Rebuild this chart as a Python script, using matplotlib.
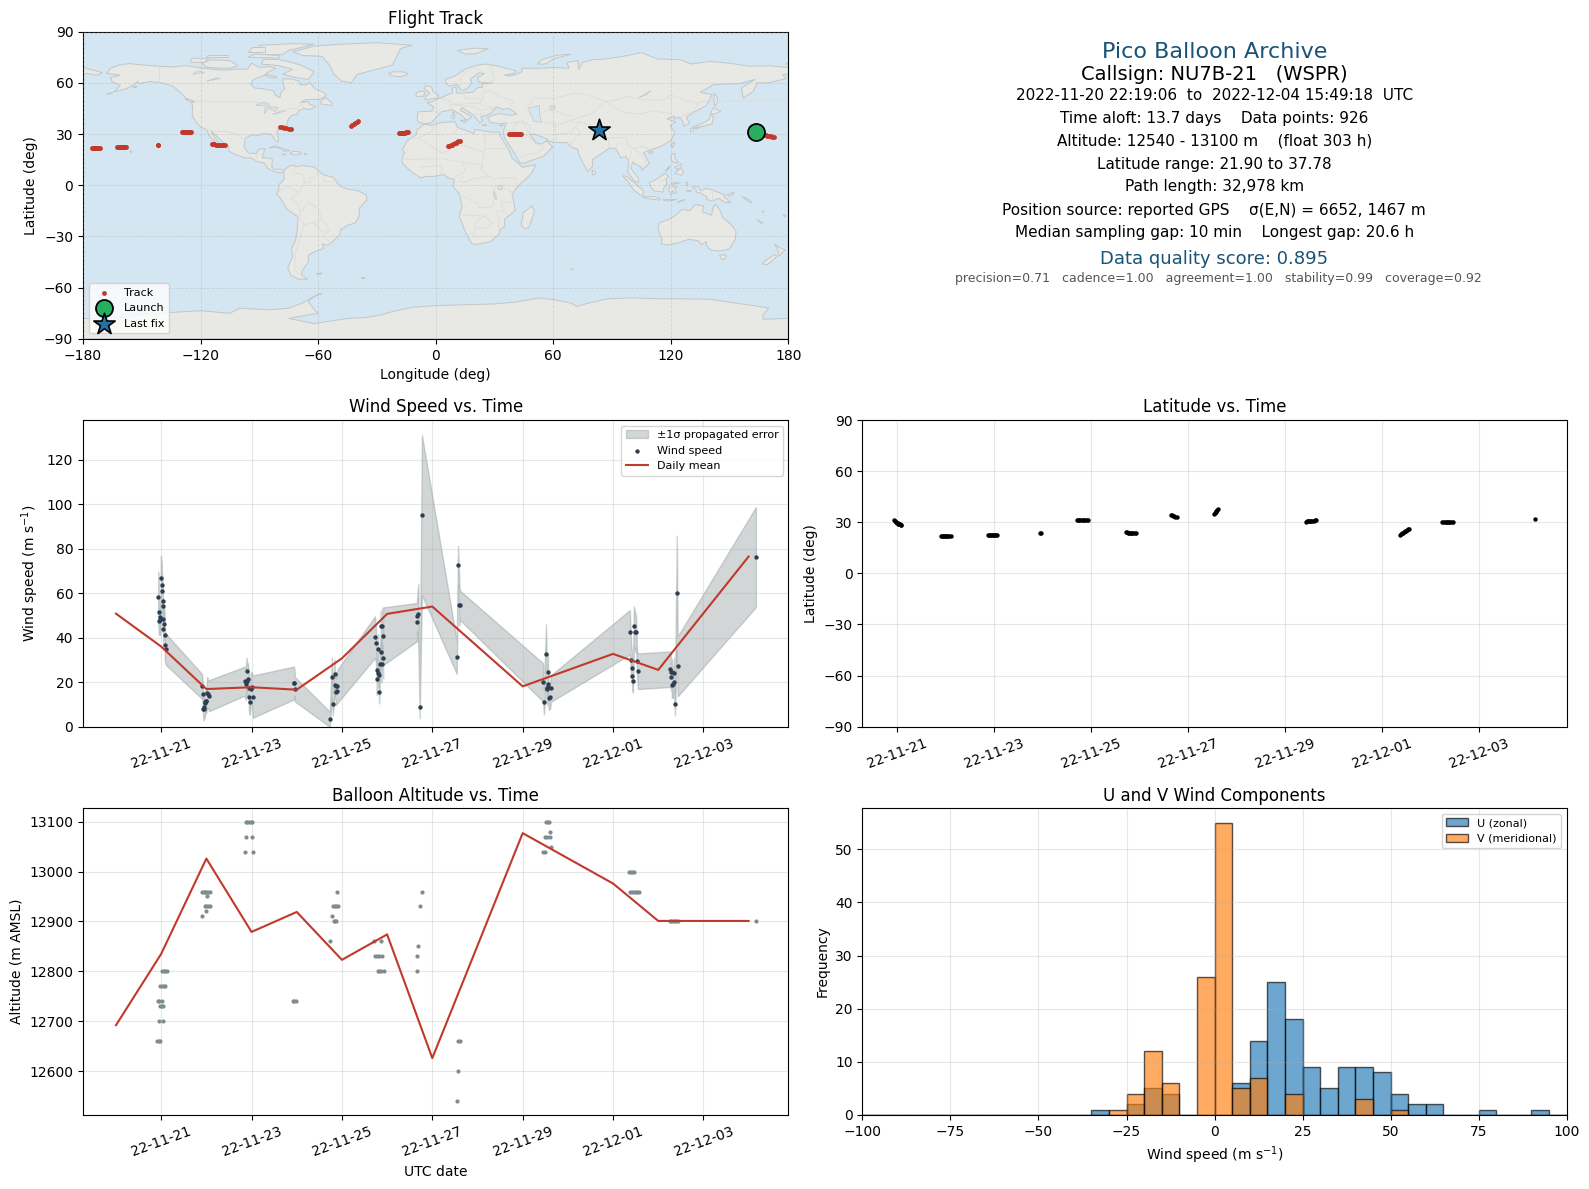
import numpy as np
import matplotlib
matplotlib.use("Agg")
import matplotlib.pyplot as plt
import matplotlib.dates as mdates
from datetime import datetime

# ---------- data ----------
BASE = "2022-11-21"
date_ticks = ["2022-11-21", "2022-11-23", "2022-11-25", "2022-11-27", "2022-11-29", "2022-12-01", "2022-12-03"]
mean_dates = ["2022-11-20", "2022-11-21", "2022-11-22", "2022-11-23", "2022-11-24", "2022-11-25",
              "2022-11-26", "2022-11-27", "2022-11-29", "2022-12-01", "2022-12-02", "2022-12-04"]
wind_mean = [50.8, 36.0, 16.9, 17.7, 16.6, 30.7, 50.7, 54.0, 18.1, 32.7, 25.5, 76.5]
alt_mean = [12692, 12835, 13026, 12879, 12919, 12823, 12874, 12626, 13077, 12976, 12901, 12901]

# days after BASE, wind speed, propagated sigma
wind_day = [-.067, -.052, -.052, -.03, -.015, -.008, .014, .014, .036, .036, .044, .05, .07, .08, .08, .10,
            .90, .92, .93, .94, .95, .97, .98, .995, 1.0, 1.017, 1.04, 1.06,
            1.844, 1.87, 1.895, 1.90, 1.92, 1.94, 1.94, 1.96, 1.98, 2.0, 2.03,
            2.936, 2.95, 2.96,
            3.73, 3.78, 3.80, 3.84, 3.84, 3.86, 3.86, 3.88, 3.90,
            4.73, 4.75, 4.77, 4.77, 4.80, 4.80, 4.82, 4.82, 4.84, 4.86, 4.86, 4.88, 4.89, 4.91, 4.91,
            5.66, 5.66, 5.69, 5.72, 5.77,
            6.54, 6.57, 6.60, 6.61,
            8.45, 8.47, 8.515, 8.54, 8.54, 8.56, 8.56, 8.56, 8.58, 8.60, 8.63,
            10.37, 10.40, 10.42, 10.42, 10.44, 10.46, 10.49, 10.51, 10.53, 10.55,
            11.26, 11.28, 11.28, 11.30, 11.30, 11.33, 11.35, 11.35, 11.37, 11.41, 11.43,
            13.16]
wind_val = [58.2, 51.4, 47.4, 48.0, 49.5, 66.8, 63.6, 60.9, 56.4, 54.1, 43.8, 48.2, 46.0, 41.1, 36.6, 34.8,
            18.2, 14.8, 7.8, 7.8, 9.0, 10.5, 11.0, 11.7, 11.3, 15.3, 14.5, 13.9,
            20.4, 19.0, 24.9, 20.7, 21.6, 17.2, 13.2, 10.9, 16.8, 17.7, 13.5,
            19.6, 19.8, 16.8,
            3.3, 22.2, 10.0, 23.5, 18.9, 18.4, 15.7, 16.0, 18.1,
            40.2, 37.5, 25.3, 21.3, 34.8, 24.0, 23.1, 15.4, 28.0, 33.4, 45.1, 28.0, 45.1, 30.7, 40.6,
            47.0, 49.9, 50.5, 8.7, 95.1,
            31.2, 72.6, 54.6, 54.6,
            19.9, 10.9, 32.5, 17.2, 16.8, 24.4, 19.2, 18.0, 12.7, 13.2, 17.2,
            42.4, 30.1, 26.2, 22.6, 20.4, 45.1, 42.4, 42.4, 29.4, 24.9,
            25.8, 24.4, 22.2, 24.4, 18.9, 19.0, 24.0, 19.9, 10.0, 60.0, 27.1,
            76.2]
wind_sig = [11.5, 9, 6, 7, 7, 10, 10, 9, 8, 8, 7, 7, 7, 7, 7, 7,
            5.6, 5, 4, 5, 5, 6, 5, 5, 5, 7, 6, 7,
            6.5, 7, 6, 7, 7, 7, 6, 5.7, 7, 7, 9.5,
            7.4, 6, 5.5,
            3.4, 9, 5, 6.5, 6, 6, 6, 6, 7.5,
            9.4, 8, 6, 7, 7, 6, 6, 5, 8, 9, 7, 8, 8, 9, 13,
            8.6, 7, 13.7, 5, 36,
            7.5, 8.7, 9, 6.6,
            8.6, 5.5, 13.5, 7, 7, 8, 7, 7, 5, 5.5, 6,
            10, 7, 7, 6, 5, 9, 9, 7, 5, 8,
            8, 7, 6, 6, 6, 6, 7, 6, 5, 25.8, 13.5,
            22.5]

# altitude samples: days after BASE, metres
alt_day = [-.09, -.05, -.02, -.05, .04, -.02, .015, .05, -.07, -.04, .02, -.02, .015, .06, .09, .02, .06, .09, .12,
           .90, .99, .96, .99, 1.03, 1.07, 1.01, .91, .94, .97, .99, 1.03, 1.07,
           1.85, 2.03, 1.87, 2.0, 1.87, 1.90, 1.94, 1.98, 2.0,
           2.92, 2.95, 2.98,
           3.73, 3.78, 3.82, 3.85, 3.87, 3.80, 3.84, 3.87, 3.91, 3.89,
           4.72, 4.86, 4.74, 4.78, 4.83, 4.89, 4.80, 4.83, 4.87, 4.92,
           5.66, 5.66, 5.68, 5.72, 5.77,
           6.57, 6.62, 6.57, 6.54,
           8.44, 8.49, 8.63, 8.50, 8.54, 8.60, 8.60, 8.52, 8.55, 8.58,
           10.35, 10.39, 10.43, 10.46, 10.37, 10.41, 10.46, 10.50, 10.54, 10.57,
           11.25, 11.29, 11.33, 11.36, 11.40, 11.44, 13.16]
alt_val = [12660, 12660, 12660, 12700, 12700, 12730, 12730, 12730, 12740, 12740, 12740, 12770, 12770, 12770, 12770,
           12800, 12800, 12800, 12800,
           12910, 12920, 12930, 12930, 12930, 12930, 12950, 12960, 12960, 12960, 12960, 12960, 12960,
           13040, 13040, 13070, 13070, 13100, 13100, 13100, 13100, 13100,
           12740, 12740, 12740,
           12860, 12910, 12900, 12900, 12900, 12930, 12930, 12930, 12930, 12960,
           12860, 12860, 12830, 12830, 12830, 12830, 12800, 12800, 12800, 12800,
           12800, 12830, 12850, 12930, 12960,
           12660, 12660, 12600, 12540,
           13040, 13040, 13050, 13070, 13070, 13070, 13080, 13100, 13100, 13100,
           13000, 13000, 13000, 13000, 12960, 12960, 12960, 12960, 12960, 12960,
           12900, 12900, 12900, 12900, 12900, 12900, 12900]

# track fixes: days after BASE, latitude, longitude
track_day = [-.065, -.05, -.035, -.02, -.005, .01, .025, .04, .055, .07, .083,
             .91, .93, .95, .97, .99, 1.01, 1.03, 1.05, 1.07, 1.10,
             1.87, 1.89, 1.91, 1.93, 1.95, 1.97, 1.99, 2.01, 2.04, 2.06,
             2.95, 2.97,
             3.72, 3.74, 3.76, 3.78, 3.81, 3.83, 3.85, 3.88, 3.91, 3.93,
             4.72, 4.74, 4.76, 4.78, 4.80, 4.82, 4.84, 4.87, 4.90, 4.92,
             5.66, 5.68, 5.70, 5.72, 5.74, 5.77,
             6.53, 6.55, 6.57, 6.59, 6.61, 6.63,
             8.44, 8.46, 8.48, 8.50, 8.52, 8.55, 8.57, 8.60, 8.63, 8.65,
             10.38, 10.40, 10.42, 10.44, 10.46, 10.48, 10.50, 10.52, 10.54, 10.56,
             11.25, 11.27, 11.30, 11.32, 11.34, 11.36, 11.39, 11.42, 11.45, 11.47,
             13.17]
track_lat = [31.0, 30.7, 30.3, 30.0, 29.7, 29.4, 29.1, 28.9, 28.7, 28.4, 28.2,
             21.8, 21.8, 21.8, 21.9, 21.9, 21.9, 21.9, 21.9, 21.9, 21.9,
             22.4, 22.4, 22.4, 22.5, 22.4, 22.5, 22.4, 22.4, 22.5, 22.5,
             23.5, 23.6,
             31.0, 31.0, 31.1, 31.1, 31.2, 31.2, 31.3, 31.3, 31.3, 31.2,
             24.1, 24.0, 23.9, 23.8, 23.7, 23.6, 23.6, 23.6, 23.5, 23.5,
             34.3, 34.0, 33.7, 33.4, 33.1, 32.9,
             34.6, 35.2, 35.8, 36.4, 37.1, 37.7,
             30.4, 30.5, 30.5, 30.6, 30.7, 30.7, 30.8, 30.9, 31.1, 31.4,
             22.7, 23.0, 23.4, 23.8, 24.2, 24.6, 25.0, 25.4, 25.8, 26.2,
             30.0, 30.0, 30.0, 30.1, 30.1, 30.0, 30.0, 30.0, 30.0, 30.0,
             31.8]
track_lon = [164.5, 165.3, 166.1, 166.9, 167.7, 168.5, 169.3, 170.1, 170.9, 171.7, 172.4,
             -175.4, -175.0, -174.6, -174.2, -173.8, -173.4, -173.0, -172.6, -172.0, -171.5,
             -162.4, -161.9, -161.4, -160.9, -160.4, -159.9, -159.4, -158.9, -158.4, -157.9,
             -141.9, -141.5,
             -129.4, -128.9, -128.4, -127.9, -127.4, -126.9, -126.4, -125.9, -125.3, -124.8,
             -114.4, -113.6, -112.9, -112.1, -111.4, -110.6, -109.9, -109.1, -108.4, -107.7,
             -79.7, -78.6, -77.5, -76.4, -75.1, -73.6,
             -43.3, -42.5, -41.8, -41.0, -40.2, -39.4,
             -18.7, -18.2, -17.7, -17.2, -16.7, -16.2, -15.7, -15.2, -14.7, -14.3,
             6.2, 6.9, 7.6, 8.2, 8.9, 9.6, 10.3, 10.9, 11.6, 12.3,
             37.4, 38.1, 38.8, 39.5, 40.2, 40.9, 41.6, 42.3, 43.0, 43.7,
             83.1]
launch_lon, launch_lat = [163.4], [31.2]
last_lon, last_lat = [83.1], [32.5]

# histogram: counts per 5 m/s bin, -100 .. 100
bin_edges = list(range(-100, 100, 5))
u_counts = {-35: 1, -25: 2, -20: 5, -15: 4, 5: 6, 10: 14, 15: 25, 20: 18, 25: 9, 30: 5, 35: 9, 40: 9, 45: 8,
            50: 4, 55: 2, 60: 2, 75: 1, 90: 1}
v_counts = {-30: 1, -25: 4, -20: 12, -15: 6, -5: 26, 0: 55, 5: 5, 10: 7, 20: 4, 40: 3, 50: 1}

# simplified land outlines (lon, lat)
land = {
 "north_america": [(-168,65.5),(-166,68.5),(-162,70.3),(-156.5,71.3),(-150,70.5),(-141,69.7),(-135,69.3),(-128,70),(-124,69.5),(-115,68),(-108,67.5),(-102,68),(-96,68),(-94,71.5),(-90,69),(-85,69.5),(-81.5,68.5),(-86,66),(-87,64.5),(-93,62),(-94.5,59),(-92.5,57),(-88,56.5),(-82.5,55.2),(-82,52.9),(-79.5,51.3),(-79,54.5),(-77,56.5),(-78,59),(-78,62.4),(-73,62.2),(-70,61),(-69,58.8),(-66,58.8),(-64.5,60.3),(-61.5,56.5),(-57.5,54.5),(-55.8,52.5),(-59,50.3),(-66,50.2),(-69,48.5),(-65,49),(-64.5,47.5),(-61,46),(-64,44.5),(-66,44.5),(-67,45),(-70,43.7),(-70.5,41.8),(-74,40.5),(-75.5,38),(-76,35.5),(-78.5,33.8),(-81,31.8),(-80.3,27),(-80.3,25.3),(-81.8,26),(-82.8,28),(-84,30),(-89,30.2),(-90,29.2),(-94,29.5),(-97.2,27.5),(-97.8,22.5),(-95.5,18.8),(-91.5,18.5),(-90.5,21),(-87,21.5),(-88,18.5),(-88.5,16),(-84,15.8),(-83.3,14.9),(-83.7,11),(-82.5,9.2),(-79.5,9.5),(-77.5,8.7),(-78,7.5),(-80,7.3),(-83,8.2),(-85.7,10),(-87.5,13),(-91.5,14),(-94.5,16.2),(-97,15.9),(-101.5,17.6),(-105.5,20),(-105.5,22.5),(-109,25.7),(-112.5,29.5),(-114.7,31.7),(-112.8,27.8),(-110,24),(-109.7,23),(-112,24.8),(-115,28),(-117,32.5),(-120.5,34.5),(-122.5,37.5),(-124.3,40.4),(-124,46),(-124.7,48.4),(-123,49),(-127.5,51),(-130.5,54.5),(-134,58),(-140,60),(-146,60.8),(-151.5,59.5),(-152,61),(-154,58.8),(-158,56.5),(-164,54.7),(-161,58.5),(-165,60.5),(-166,63),(-161,64.5)],
 "south_america": [(-77.5,8.7),(-75,11),(-72,12),(-71.5,10.8),(-68,11.5),(-62,10.7),(-60,8.5),(-57,6),(-52,4.5),(-50,1),(-48,-1),(-44,-2.5),(-40,-3),(-35.5,-5.5),(-35,-8.5),(-39,-13.5),(-39,-18),(-41,-22),(-45,-23.5),(-48.5,-26),(-49,-29),(-52.5,-33),(-55,-35),(-58,-34.3),(-57,-37),(-62,-39),(-65,-41),(-65,-45),(-68,-50),(-68.5,-52.5),(-65.5,-55),(-70,-55),(-74,-52.5),(-75.5,-48),(-73,-42),(-73.5,-37),(-71.5,-32),(-70.5,-24),(-70.3,-18.4),(-76,-14),(-79,-8),(-81.2,-5),(-80,-2.5),(-80,0.5),(-78.5,2),(-77.3,4),(-77.5,7)],
 "africa": [(-6,35.8),(-2,35.2),(3,36.8),(10,37.3),(11,34),(15,32.3),(19.5,30.3),(20,32.7),(25,31.7),(29,31),(32.5,31.2),(32.5,29.8),(35.5,24),(37.2,21),(39,16),(43,12),(44,10.5),(51,12),(49,7),(44,1.5),(41,-2),(39,-5),(40,-10.5),(40.5,-15),(35,-20),(35.3,-24),(32.8,-26),(32.5,-28.5),(28,-33),(20,-34.8),(18.3,-34),(15,-27),(12,-18),(13.5,-12),(12,-5),(9,-1),(9.5,3.5),(6,4.3),(4.5,6.2),(-1,5.2),(-4.5,5.2),(-8,4.4),(-13,8.5),(-16.8,12.5),(-17.3,14.7),(-16,19),(-17,21),(-14.5,26.3),(-10,29.5),(-9.5,32.5)],
 "eurasia": [(-9,37),(-9.5,38.7),(-9,43),(-2,43.4),(-1,46),(-4.5,48.4),(-1.5,49),(2,51),(4,52),(8.5,54),(8.5,57),(10.5,57.5),(10.5,54),(14,54),(19,54.5),(21,57),(24,57.5),(23.5,59.3),(29.5,60),(23,60),(21.5,61),(21.5,63),(25,65.5),(22,65.8),(17.5,62),(18.5,60),(16.5,57),(14,55.5),(12.8,56),(11,59),(7,58),(5,60),(5,62),(10,64),(15,68),(20,70),(25.5,71),(31,70),(41,67),(40,65.5),(35,64.5),(38,64),(40,64.6),(44,66.5),(44,68.5),(54,68.5),(60,69),(68,68.5),(67,72),(72.5,73),(73,68),(75,72),(80,73.5),(87,74),(98,76),(105,77.7),(113,74),(125,73.5),(130,71),(140,72.5),(150,71.5),(160,69.7),(170,70),(180,69),(180,65),(177,64.7),(179,62.5),(170,60),(164,60),(163,57.5),(162,55),(157,51),(156,57),(163,62),(155,59.5),(142,59),(135,54.5),(141,53),(138,46.5),(132,43),(128,40),(129.5,36),(126.5,34.5),(126,37.5),(124.5,39.8),(121.5,39),(122,40.5),(118,39),(122.5,37),(119.5,35),(122,31),(120,26),(114,22.3),(110,21),(106,19),(109,13),(107,10.5),(105,8.8),(105,10.5),(100.5,13.5),(99.5,10),(103.5,4),(103.5,1.4),(101,3),(98,8),(98.5,14),(97,17),(94.5,16),(92,21.5),(89,21.8),(86.5,20),(80,15),(80,11),(77.5,8),(73,18),(72.5,21),(69,22.5),(67,25),(61.5,25),(57,26),(57,27),(50.5,30),(48,30),(51,25),(54,24),(56.5,26),(59.7,22.5),(55,17),(45,13),(43,13),(39,21),(35,28),(34.5,31.5),(36,36.5),(32,36),(27.5,37),(26.5,39.5),(29,41),(33,42),(38,41),(41.5,41.5),(37.5,45),(34,44.5),(31,46),(28,42),(26,40.7),(23,40.3),(24,38),(22.5,36.5),(19.5,41),(13.5,45.5),(12.5,44),(18.5,40),(16,38),(12.5,41.5),(8.5,44.3),(3,43),(0,39.5),(-2,36.8),(-5.5,36)],
 "chukotka": [(-180,69),(-175,67.5),(-170,66),(-173,64.5),(-178,65.5),(-180,65)],
 "greenland": [(-73,78.2),(-68,76),(-58,75.5),(-54,70),(-52,65),(-48,61),(-43,60),(-40,65),(-28,68.5),(-22,70.5),(-20,75),(-18,80),(-12,82),(-30,83.5),(-50,82.5),(-62,81.5)],
 "iceland": [(-24,65.5),(-22,64),(-18,63.5),(-14,65),(-16,66.4),(-22,66.4)],
 "baffin": [(-80,73.7),(-72,71.5),(-68,70),(-62,66.5),(-65,62),(-71,63),(-78,65),(-73,68),(-80,70),(-89,71),(-88,73.7)],
 "victoria": [(-117,69),(-105,68.5),(-101,70),(-105,73),(-115,73.5),(-119,71.5)],
 "ellesmere": [(-90,76.5),(-78,76.5),(-75,79),(-62,82.5),(-72,83),(-90,82),(-90,80)],
 "banks": [(-125,72),(-118,72),(-116,74),(-122,74.5),(-125,74)],
 "devon": [(-96,75),(-80,74.5),(-80,76),(-92,76.8)],
 "melville": [(-117,75),(-106,75),(-106,76.5),(-116,76.5)],
 "axel": [(-96,78),(-87,78),(-87,81),(-94,81)],
 "southampton": [(-87,65),(-81,63.5),(-82,62.8),(-86,63.5)],
 "newfoundland": [(-59,47.7),(-53,46.7),(-52.8,48),(-56,51.3),(-58,50)],
 "vancouver": [(-128,50.7),(-125,50),(-123.5,48.4),(-125.5,48.9)],
 "cuba": [(-85,22),(-82,23.1),(-77,21),(-74.2,20.2),(-77.5,19.9),(-78.5,21.5),(-82,22.2)],
 "hispaniola": [(-74.4,18.5),(-73,19.9),(-69.5,19.6),(-68.4,18.6),(-71.5,17.8)],
 "jamaica": [(-78.3,18.3),(-76.3,18.1),(-77,17.8)],
 "puerto_rico": [(-67.2,18.4),(-65.7,18.4),(-66,18)],
 "hawaii": [(-156,20.2),(-155,19.7),(-155.6,19)],
 "aleutians": [(-168,53.5),(-164.5,54.5),(-166.5,53.3)],
 "kodiak": [(-154.5,57.5),(-152.5,58),(-153,57)],
 "britain": [(-5.5,50),(1.3,51.2),(1.5,52.8),(-1.5,55),(-2,57.5),(-5,58.5),(-6,56.5),(-3,54),(-5,52)],
 "ireland": [(-10,52),(-6,52.2),(-5.7,54.8),(-8,55.2),(-10,54)],
 "sicily": [(12.5,38),(15.6,38.2),(15,36.7)],
 "sardinia": [(8.2,41),(9.7,41),(9.5,39.1),(8.4,39)],
 "corsica": [(8.6,42.4),(9.5,43),(9.3,41.5)],
 "crete": [(23.6,35.5),(26.2,35.2),(24.5,34.9)],
 "cyprus": [(32.3,35),(34.5,35.6),(33.5,34.6)],
 "svalbard": [(11,79),(20,80.3),(27,80),(20,77),(15,76.8)],
 "novaya_zemlya": [(52,71),(56,71),(60,74),(69,76.8),(62,76.2),(54,73.5)],
 "sakhalin": [(142,54),(143.5,52),(144,49),(142.5,46.2),(142,50)],
 "hokkaido": [(140.3,42.5),(141.8,45.4),(145.5,43.3),(143,42),(141,41.5)],
 "honshu": [(131,34.3),(136,36),(139.5,38.5),(140.3,41.3),(141.8,40),(141,36),(137,34.6),(132.5,33.8)],
 "kyushu": [(130,33.4),(131.9,33.5),(131,31.2),(130.2,31.4)],
 "shikoku": [(132.3,33.5),(134.5,34.2),(134,33.3),(132.8,32.8)],
 "taiwan": [(120.1,23.5),(121.5,25.2),(121.9,24.8),(120.9,22)],
 "hainan": [(108.7,19.3),(110.5,20.1),(111,19.6),(109.5,18.2)],
 "luzon": [(120,16),(120.7,18.5),(122.2,18.4),(122,16),(124,13),(121,13.7)],
 "mindanao": [(122,7),(123.5,8.6),(125.5,9.7),(126.5,7.5),(125.5,5.8),(124,6.4)],
 "visayas": [(122,10.5),(124,11.5),(125.5,12.5),(125.2,10.5),(123,9.3)],
 "palawan": [(117.2,8.4),(119.4,11.3),(119.6,10.5),(117.5,8.2)],
 "borneo": [(109,1.5),(111.5,2.8),(114,4.5),(116.8,7),(119,5.2),(117.5,3.5),(118,1),(116.5,-1.5),(116,-4),(111.5,-3.3),(110,-1.5)],
 "sumatra": [(95.3,5.6),(97.5,5.2),(100.5,2.2),(104,-1),(106,-3.2),(105.8,-5.8),(104.5,-5.8),(101,-2.8),(98.5,1.7)],
 "java": [(105.3,-6.8),(108.5,-6.7),(111,-6.5),(114.5,-7.7),(114.3,-8.7),(110,-8.1),(106.5,-7.4)],
 "lesser_sunda": [(116,-8.4),(119,-8.4),(123,-8.3),(119.5,-9.2),(116.5,-9)],
 "timor": [(123.5,-10.2),(127.2,-8.4),(125,-9.2)],
 "sulawesi": [(119.5,0),(120.5,1.2),(125,1.6),(121,0.4),(121,-1),(123.3,-1),(122,-2),(122.8,-5),(121.5,-4.8),(120.8,-2.8),(120.4,-5.5),(119.5,-5.3),(119,-2.8)],
 "halmahera": [(127.5,1.5),(128.5,2),(128.5,-0.5),(127.8,0)],
 "ceram": [(127.9,-3.2),(130.8,-3.2),(129.5,-3.5)],
 "new_guinea": [(131,-0.8),(134,-0.8),(135,-3.2),(138,-1.8),(141,-2.7),(145,-4.5),(147.8,-6),(147,-6.8),(150.8,-10.3),(147.5,-10),(144.5,-7.7),(141,-9.2),(138,-8.3),(138.5,-6.8),(135,-4.4),(132.8,-4),(133,-2.5),(131,-1.4)],
 "new_britain": [(148.5,-5.6),(152,-4.2),(152.2,-5),(150,-6.3)],
 "solomon": [(156.5,-6.7),(160,-8.5),(161.5,-10.5),(159,-9)],
 "new_caledonia": [(164,-20),(167,-22.2),(166,-22.2)],
 "vanuatu": [(166.8,-15),(167.5,-15.5),(167.2,-16)],
 "fiji": [(177.3,-17.5),(178.6,-17.7),(178,-18.4)],
 "australia": [(114,-22),(113.5,-26),(115.5,-31.5),(115,-34.3),(118,-35),(123.5,-33.9),(129,-31.7),(134,-32.5),(135.7,-34.8),(138,-33),(138.3,-35.5),(140.5,-38),(144,-38.5),(147,-38),(150,-37.3),(153,-31.5),(153.3,-27),(150.8,-23),(146.5,-19),(145.2,-15),(142.8,-11),(141.6,-13),(140.8,-17.5),(136,-15.5),(136.8,-12.2),(132.5,-11.3),(129.5,-15),(126,-14),(122.5,-17.5),(119,-20)],
 "tasmania": [(144.8,-40.8),(148.2,-40.9),(148,-43),(146,-43.6)],
 "nz_north": [(172.8,-34.5),(175.5,-36.5),(178.4,-37.8),(176.5,-40),(175.2,-41.5),(174.8,-39.5),(174.6,-37.5)],
 "nz_south": [(172.7,-40.6),(174.2,-41.6),(171,-45),(169,-46.6),(166.6,-46),(168.5,-44)],
 "madagascar": [(49.3,-12),(50.4,-15.5),(47.5,-24.8),(45.2,-25.5),(43.5,-23),(44.4,-19.5),(44.4,-16.2)],
 "sri_lanka": [(79.8,9),(81.8,7.5),(81,6),(80,6.2)],
 "kerguelen": [(68.8,-49),(70.3,-49),(69.5,-49.6)],
 "falkland": [(-61,-51.8),(-58,-51.4),(-59,-52.3)],
 "south_georgia": [(-38,-54),(-36,-54.2),(-37,-54.6)],
 "wrangel": [(178.5,71),(180,71.5),(180,70.9)],
 "antarctica": [(-180,-90),(-180,-78),(-165,-78.5),(-158,-77),(-148,-76),(-135,-74.5),(-120,-73.5),(-105,-75),(-100,-72),(-85,-73),(-75,-72),(-68,-69),(-60,-64),(-58,-63.3),(-62,-65),(-65,-68),(-62,-73),(-60,-75),(-75,-78),(-62,-81),(-45,-78),(-36,-77.5),(-28,-76),(-22,-74),(-12,-71.5),(0,-70.5),(15,-70),(30,-69.5),(40,-68.5),(53,-66),(60,-67),(69,-69),(72,-71),(78,-69),(88,-66.5),(100,-66),(114,-66.5),(125,-66.5),(140,-66.8),(150,-68.5),(162,-70.5),(170,-72),(167,-76),(167,-78.5),(180,-78),(180,-90)],
}
lakes = {
 "caspian": [(47,45),(53,46.8),(53,42),(54,37),(50,37.3),(49,40.5)],
 "superior": [(-92,46.8),(-88,48.7),(-85,47.5),(-85,46.6),(-88,46.8)],
 "huron_michigan": [(-87.5,42),(-87,45.6),(-84,46),(-80.5,45.5),(-81.8,43.2),(-83.5,43.8),(-84.5,45.5),(-86,44)],
 "erie_ontario": [(-83,41.6),(-79,42.8),(-76.5,43.6),(-79,43.7),(-80,42.9)],
 "great_slave": [(-117,61),(-110,62.5),(-112,62.8)],
 "great_bear": [(-124,65),(-118,66),(-121,67)],
 "victoria": [(31.7,-0.5),(34,0.2),(33.8,-2.5),(32,-2.5)],
 "tanganyika": [(29.3,-3.5),(30.5,-5),(31,-8.5),(29.8,-7)],
 "aral": [(58.5,46.5),(61,46.5),(60,44.2),(58.5,44)],
 "baikal": [(104,51.7),(106,52.5),(109.8,55.6),(108,53.5)],
}
borders = [
 [(-141,69.7),(-141,60.2)], [(-123,49),(-95,49),(-89,48),(-82.5,45.3),(-79,43),(-75,45),(-71,45),(-69,47.3),(-67.5,45.5)],
 [(-117,32.5),(-111,31.3),(-106.5,31.8),(-101.5,29.8),(-97.2,25.9)], [(-92,14.5),(-91,17.8),(-89,17.8)],
 [(-72,12),(-72.5,7.5),(-67.5,6),(-67,1.5),(-70,-4.2),(-73.5,-7.5),(-70.5,-11),(-69,-16),(-69.8,-18)],
 [(-60,8.5),(-61,5),(-64,4),(-64,1.5),(-67,1.5)], [(-80,-3.5),(-75.5,-0.5),(-70,-4.2)],
 [(-69,-16),(-65,-10),(-60,-13.5),(-58,-20),(-62.5,-22),(-67,-23)], [(-70.5,-18.4),(-67,-23),(-70,-33),(-71.5,-40),(-72,-50),(-68.5,-52.5)],
 [(-62.5,-22),(-58,-27),(-54,-26),(-57.5,-30),(-53,-34)], [(-58,-20),(-54.5,-25)], [(-57,6),(-57,2),(-52,2.3),(-52,4.5)],
 [(-2,35.2),(-1.5,32),(-8.7,27.5),(-13,27.7)], [(-8.7,27.5),(-5,25),(3,19),(4,19),(12,23.5),(15,23)], [(9.5,30),(11,33)],
 [(25,31.7),(25,20),(24,15.5),(23,10),(27,5),(31,3.5),(34,4.5),(36,4.5),(41,4),(41,-2)], [(25,22),(37,22)], [(15,23),(24,19.5)],
 [(-17,15.5),(-12,15),(-5.5,15.5),(3.5,15.5),(14,13.5),(15,8),(10,5)], [(-8,10.5),(-3,11),(3,11.5),(3,6.5)],
 [(14,13.5),(24,12),(24,9)], [(34,4.5),(34,-1),(39.5,-4.5)], [(30,-1),(30,-8),(28.5,-13),(22,-13),(22,-11),(12.5,-6)],
 [(40,-10.5),(33,-9.5),(35,-15),(31,-15.5),(32.5,-21),(32,-26)], [(12,-17.3),(24.5,-18),(20,-22),(20,-28.5),(17,-28.5)],
 [(25,-18),(29,-22.5),(26,-25),(20,-25)], [(12.5,2),(16,2),(18,3.5),(27,5)], [(9.5,2.3),(12,2),(14,5)],
 [(34.5,31.5),(39,32.5),(42,37),(44.5,37.2),(46,33),(48,30)], [(36,36.5),(42,37)], [(39,32.5),(47,29),(51,24.5),(55.5,22),(52,19),(45,17.5),(43,16.5)],
 [(44.5,39.5),(44.5,37.2),(48,35),(48,30)], [(61,36.5),(61,31.5),(62,25)], [(61,35),(67,37.2),(74,37),(71,34),(69,31),(61,29.5)],
 [(74,37),(77.5,35.5),(79,32),(81,30),(88,27.8),(92,27.8),(97,28),(98,24),(101,21.5),(106,22.8),(108,21.5)],
 [(71,34),(74,31),(70.5,27),(69,24)], [(88,27),(88,22)], [(92,25),(92,21.5)], [(101,21.5),(105,18),(107,14.5),(106,11)], [(98.5,14),(100,20)],
 [(180,50),(135,49),(131,43)], [(48,42),(47,45),(50,51),(61,51),(71,54),(77,53),(87,49),(92,50),(98,52),(107,50),(117,50),(120,53),(127,50),(135,48)],
 [(87,49),(82,45),(80,42),(74,40),(67,37.2)], [(54,42),(58.5,45.5),(66,41),(70,41)], [(54,37),(61,36)], [(120,42),(111,43.5),(104,41.7),(96,42.7),(91,45.5),(87,49)],
 [(124.5,40),(130,42.5)], [(28,56),(31,53),(32,52),(40,49.5),(38,47)], [(28,70),(30,62),(28,60)], [(20,69),(24,66),(22,65.8)], [(12,61),(15,66),(20,69)],
 [(14,54),(15,51),(24,50.5),(24,54),(28,56)], [(24,50.5),(22,48),(29,45.5)], [(2.5,51),(8,49),(7.5,47.5),(13,47.5),(17,48),(22,48)],
 [(-1.8,43.4),(3,42.5)], [(-7,42),(-7,37)], [(7.5,44),(7,47),(10,47),(14,46.5),(19,46),(22.5,44),(29,45)], [(20,42),(26,41.5)], [(26,41.5),(27,42.5)],
 [(141,-2.7),(141,-9.2)], [(114.5,1.5),(117.5,4.2)],
]
# ------------------------------------------------

OCEAN, LAND, COAST, BORDER = "#d4e6f1", "#e8e8e4", "#c2c7c9", "#dcdcd8"
RED, NAVY, GREY, TITLE_BLUE = "#c0392b", "#2c3e50", "#7f8c8d", "#1a5276"
W, H = 1589.0, 1189.0


def make_axes(left, top, right, bottom):
    return fig.add_axes([left / W, 1 - bottom / H, (right - left) / W, (bottom - top) / H])


def to_x(days):
    return mdates.date2num(datetime.fromisoformat(BASE)) + np.asarray(days, dtype=float)


def from_dates(dates):
    return mdates.date2num([datetime.fromisoformat(d) for d in dates])


def style_time(ax, lo=-1.73, hi=13.88):
    ax.set_xlim(to_x(lo), to_x(hi))
    ax.set_xticks(from_dates(date_ticks))
    ax.xaxis.set_major_formatter(mdates.DateFormatter("%y-%m-%d"))
    ax.tick_params(axis="x", labelrotation=20)
    ax.grid(True, alpha=0.3)


fig = plt.figure(figsize=(15.89, 11.89), dpi=100)

# map
ax = make_axes(83, 31.6, 788.4, 338.9)
ax.set_facecolor(OCEAN)
for pts in land.values():
    xs, ys = zip(*pts)
    ax.fill(xs, ys, facecolor=LAND, edgecolor=COAST, linewidth=0.7, zorder=1)
for pts in lakes.values():
    xs, ys = zip(*pts)
    ax.fill(xs, ys, facecolor=OCEAN, edgecolor=COAST, linewidth=0.5, zorder=1.1)
for pts in borders:
    xs, ys = zip(*pts)
    ax.plot(xs, ys, color=BORDER, linewidth=0.6, zorder=1.2)
ax.scatter(track_lon, track_lat, s=12, color=RED, linewidths=0, zorder=3, label="Track")
ax.scatter(launch_lon, launch_lat, s=150, color="#27ae60", edgecolors="black", linewidths=1.3, zorder=4, label="Launch")
ax.scatter(last_lon, last_lat, s=260, marker="*", color="#2471a3", edgecolors="black", linewidths=1.2, zorder=4, label="Last fix")
ax.set_xlim(-180, 180)
ax.set_ylim(-90, 90)
ax.set_xticks(range(-180, 181, 60))
ax.set_yticks(range(-90, 91, 30))
ax.grid(True, linestyle="--", linewidth=0.6, color="#9aa3a8", alpha=0.3, zorder=2)
ax.set_axisbelow(False)
ax.set_xlabel("Longitude (deg)")
ax.set_ylabel("Latitude (deg)")
ax.set_title("Flight Track", pad=5.5)
ax.legend(loc="lower left", fontsize=8)

# text block
cx = 1214.5
lines = [
    ("Pico Balloon Archive", 51.7, 16, TITLE_BLUE, 0),
    ("Callsign: NU7B-21   (WSPR)", 74, 14, "black", 0),
    ("2022-11-20 22:19:06  to  2022-12-04 15:49:18  UTC", 95.5, 11, "black", 0),
    ("Time aloft: 13.7 days    Data points: 926", 118.5, 11, "black", 0),
    ("Altitude: 12540 - 13100 m    (float 303 h)", 141, 11, "black", 0),
    ("Latitude range: 21.90 to 37.78", 164, 11, "black", 0),
    ("Path length: 32,978 km", 187, 11, "black", 0),
    ("Position source: reported GPS    \u03c3(E,N) = 6652, 1467 m", 210, 11, "black", -1),
    ("Median sampling gap: 10 min    Longest gap: 20.6 h", 233, 11, "black", 0),
    ("Data quality score: 0.895", 258.5, 13, TITLE_BLUE, 0),
    ("precision=0.71   cadence=1.00   agreement=1.00   stability=0.99   coverage=0.92", 278.5, 9, "#555555", 4),
]
for s, y, size, col, dx in lines:
    fig.text((cx + dx) / W, 1 - y / H, s, ha="center", va="center", fontsize=size, color=col)

# wind speed
ax = make_axes(83, 420.0, 788.4, 726.6)
wx = to_x(wind_day)
wv = np.array(wind_val)
ws = np.array(wind_sig)
ax.fill_between(wx, wv - ws, wv + ws, color=GREY, alpha=0.35, label="\u00b11\u03c3 propagated error")
ax.scatter(wx, wv, s=10, color=NAVY, linewidths=0, zorder=3, label="Wind speed")
ax.plot(from_dates(mean_dates), wind_mean, color=RED, linewidth=1.5, zorder=4, label="Daily mean")
ax.set_ylim(0, 137.9)
ax.set_yticks(range(0, 121, 20))
style_time(ax)
ax.set_ylabel("Wind speed (m s$^{-1}$)")
ax.set_title("Wind Speed vs. Time")
ax.legend(loc="upper right", fontsize=8)

# latitude
ax = make_axes(862.4, 420.0, 1566.7, 726.6)
ax.scatter(to_x(track_day), track_lat, s=10, color="black", linewidths=0, zorder=3)
ax.set_ylim(-90, 90)
ax.set_yticks(range(-90, 91, 30))
style_time(ax, -0.72, 13.82)
ax.set_ylabel("Latitude (deg)")
ax.set_title("Latitude vs. Time")

# altitude
ax = make_axes(83, 808.2, 788.4, 1115)
ax.scatter(to_x(alt_day), alt_val, s=9, color=GREY, linewidths=0, zorder=3)
ax.plot(from_dates(mean_dates), alt_mean, color=RED, linewidth=1.5, zorder=4)
ax.set_ylim(12512, 13127)
ax.set_yticks(range(12600, 13101, 100))
style_time(ax)
ax.set_xlabel("UTC date")
ax.set_ylabel("Altitude (m AMSL)")
ax.set_title("Balloon Altitude vs. Time", pad=5)

# histogram
ax = make_axes(862.4, 808.2, 1566.7, 1115)
u_vals = [u_counts.get(b, 0) for b in bin_edges]
v_vals = [v_counts.get(b, 0) for b in bin_edges]
ax.bar(bin_edges, u_vals, width=5, align="edge", color="#1f77b4", edgecolor="black", linewidth=1, alpha=0.65, label="U (zonal)")
ax.bar(bin_edges, v_vals, width=5, align="edge", color="#ff7f0e", edgecolor="black", linewidth=1, alpha=0.65, label="V (meridional)")
ax.set_xlim(-100, 100)
ax.set_ylim(0, 57.75)
ax.grid(True, alpha=0.3)
ax.set_xlabel("Wind speed (m s$^{-1}$)")
ax.set_ylabel("Frequency")
ax.set_title("U and V Wind Components", pad=5)
ax.legend(loc="upper right", fontsize=8)

fig.savefig("out.png", dpi=100)
